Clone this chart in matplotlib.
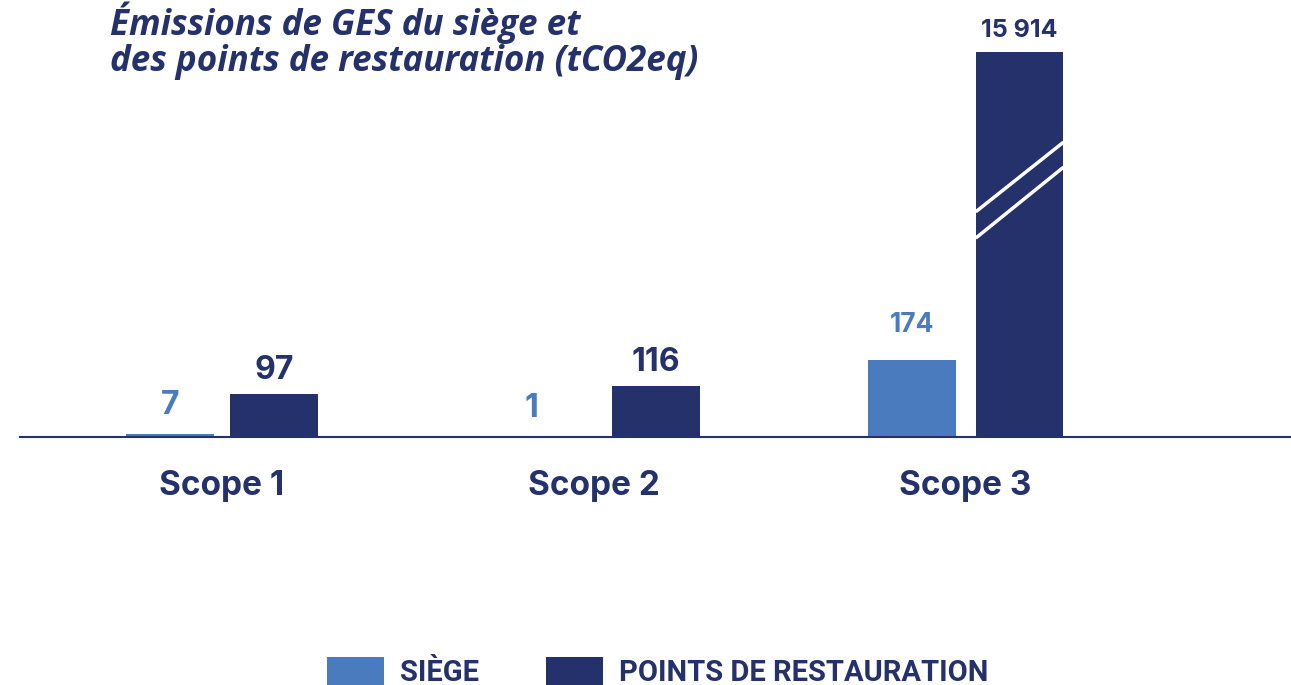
import numpy as np
import matplotlib.pyplot as plt

# data
scopes = ["Scope 1", "Scope 2", "Scope 3"]
siege = [7, 1, 174]
restauration = [97, 116, 15914]
siege_labels = ["7", "1", "174"]
resto_labels = ["97", "116", "15 914"]
series_names = ["SIÈGE", "POINTS DE RESTAURATION"]

light = "#4a7bbf"
navy = "#24316a"

# broken scale: linear up to 300, compressed above
k = 575 / (15914 - 300)
def fwd(v):
    v = np.asarray(v, dtype=float)
    return np.where(v <= 300, v, 300 + (v - 300) * k)
def inv(u):
    u = np.asarray(u, dtype=float)
    return np.where(u <= 300, u, 300 + (u - 300) / k)

fig = plt.figure(figsize=(12.91, 6.85), dpi=100)
ax = fig.add_axes([20 / 1291, 248 / 685, 1271 / 1291, 417 / 685])
ax.set_yscale("function", functions=(fwd, inv))

x = np.arange(len(scopes))
w = 0.236
off = np.array([52, 62, 54]) / 372
b1 = ax.bar(x - off, siege, w, color=light, label=series_names[0])
b2 = ax.bar(x + off, restauration, w, color=navy, label=series_names[1])

ax.set_xlim(-0.543, 2.875)
ax.set_ylim(0, float(inv(948)))

sizes = [23, 23, 19]
sizes_r = [23, 23, 18]
pads_s = [9, 9, 16]
pads_r = [6, 6, 7]
for i in range(len(scopes)):
    ax.annotate(siege_labels[i], (x[i] - off[i], siege[i]), xytext=(0, pads_s[i]),
                textcoords="offset points", ha="center", va="bottom",
                fontsize=sizes[i], fontweight="bold", color=light, family="Inter")
    ax.annotate(resto_labels[i], (x[i] + off[i], restauration[i]), xytext=(0, pads_r[i]),
                textcoords="offset points", ha="center", va="bottom",
                fontsize=sizes_r[i], fontweight="bold", color=navy, family="Inter")

# break marks on the tall bar
tr = ax.get_xaxis_transform()
x0 = x[2] + off[2] - w / 2
x1 = x[2] + off[2] + w / 2
ax.plot([x0, x1], [0.540, 0.707], color="white", lw=2.5, transform=tr, solid_capstyle="butt")
ax.plot([x0, x1], [0.477, 0.647], color="white", lw=2.5, transform=tr, solid_capstyle="butt")

for s in ["top", "right", "left"]:
    ax.spines[s].set_visible(False)
ax.spines["bottom"].set_color(navy)
ax.spines["bottom"].set_linewidth(1.5)
ax.set_yticks([])
ax.set_xticks(x)
ax.set_xticklabels(scopes, fontsize=24, fontweight="bold", color=navy, family="Inter")
ax.tick_params(axis="x", length=0, pad=24)

fig.text(110 / 1291, 1 - 1 / 685, "Émissions de GES du siège et\ndes points de restauration (tCO2eq)",
         ha="left", va="top", fontsize=25.2, fontweight="bold", style="italic",
         color=navy, family="Open Sans", linespacing=1.03)

fig.legend(handles=[b1, b2], labels=series_names, loc="center", ncol=2,
           bbox_to_anchor=(658 / 1291, 1 - 672 / 685), frameon=False,
           prop={"family": "Roboto", "weight": "bold", "size": 21},
           handlelength=1.95, handleheight=1.1, columnspacing=2.3, handletextpad=0.55,
           labelcolor=navy)

fig.savefig("out.png", dpi=100)
